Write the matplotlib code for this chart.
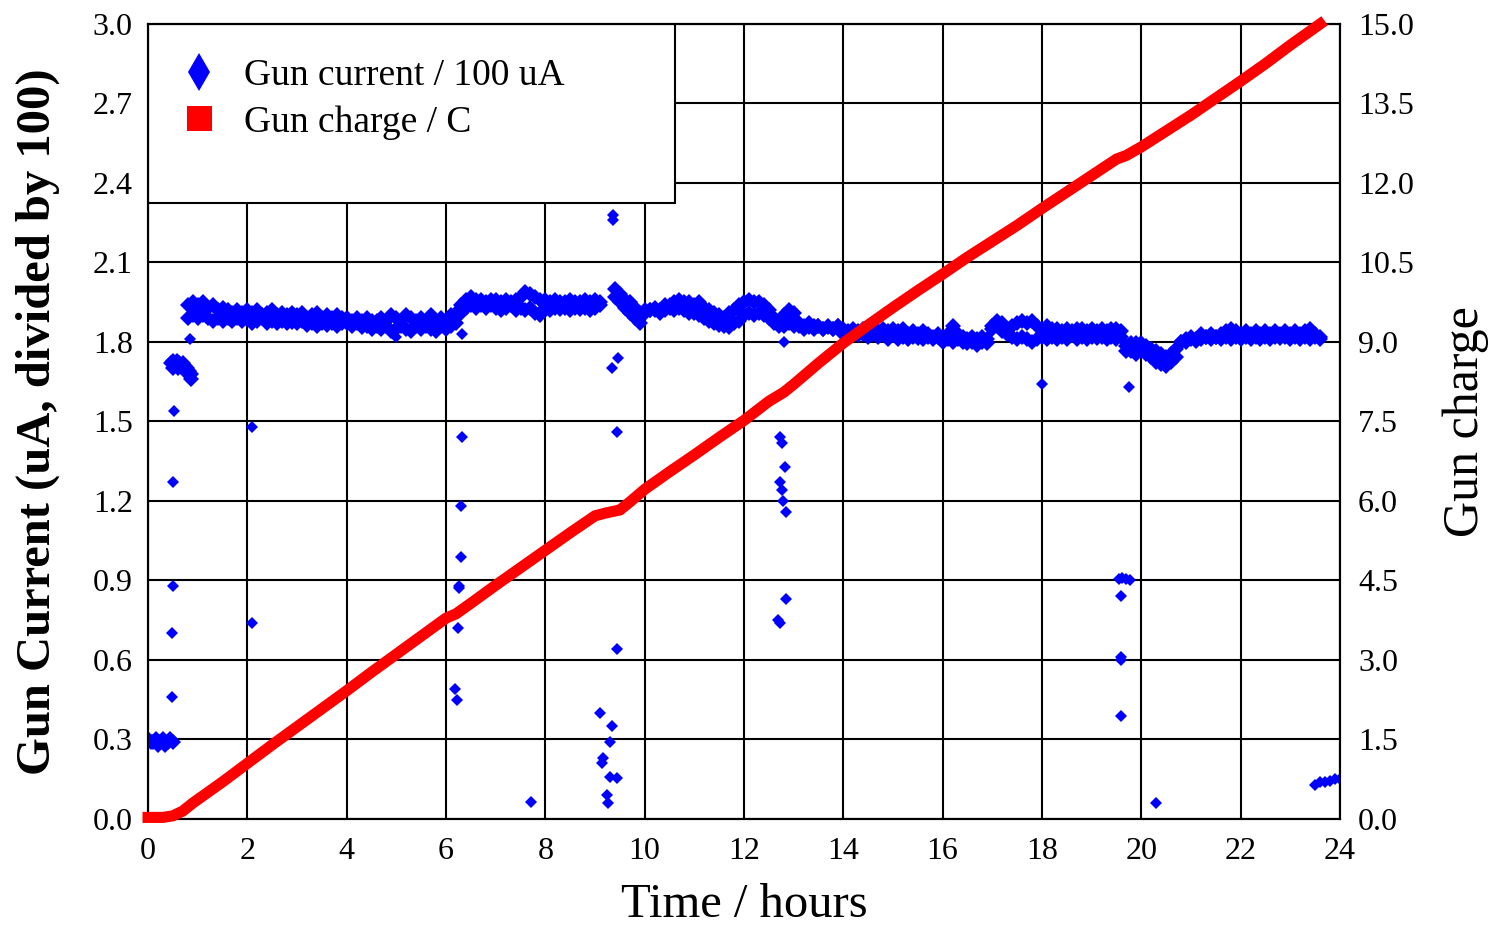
import numpy as np
import matplotlib
matplotlib.use("Agg")
import matplotlib.pyplot as plt
from matplotlib.lines import Line2D
from matplotlib.patches import Rectangle

plt.rcParams['font.family'] = ['Liberation Serif', 'DejaVu Serif']

# ---------------- gun current (units of 100 uA) ----------------
# dense band segments, sampled every 0.1 h: upper and lower row of the band
b1_t = np.arange(0.8, 6.25, 0.1)
b1_hi = [1.94, 1.95, 1.94, 1.95, 1.93, 1.94, 1.92, 1.93, 1.92, 1.91, 1.92, 1.91, 1.92, 1.91,
         1.92, 1.90, 1.91, 1.92, 1.90, 1.91, 1.90, 1.91, 1.90, 1.91, 1.89, 1.90, 1.91, 1.89,
         1.90, 1.89, 1.90, 1.89, 1.89, 1.88, 1.89, 1.88, 1.89, 1.88, 1.88, 1.89, 1.88, 1.90,
         1.89, 1.88, 1.90, 1.89, 1.88, 1.89, 1.88, 1.90, 1.88, 1.89, 1.88, 1.90, 1.91]
b1_lo = [1.89, 1.90, 1.89, 1.90, 1.89, 1.88, 1.89, 1.88, 1.89, 1.88, 1.89, 1.88, 1.885, 1.87,
         1.88, 1.89, 1.87, 1.88, 1.87, 1.88, 1.87, 1.875, 1.87, 1.88, 1.865, 1.87, 1.86, 1.87,
         1.865, 1.87, 1.86, 1.87, 1.87, 1.86, 1.87, 1.855, 1.86, 1.85, 1.86, 1.85, 1.86, 1.84,
         1.85, 1.86, 1.85, 1.84, 1.86, 1.85, 1.86, 1.85, 1.84, 1.86, 1.85, 1.86, 1.87]

b2_t = np.arange(6.3, 9.15, 0.1)
b2_hi = [1.94, 1.96, 1.97, 1.96, 1.96, 1.95, 1.96, 1.96, 1.95, 1.96, 1.95, 1.96, 1.97, 1.99,
         1.98, 1.97, 1.96, 1.96, 1.95, 1.96, 1.95, 1.95, 1.96, 1.95, 1.95, 1.96, 1.95, 1.96, 1.95]
b2_lo = [1.91, 1.93, 1.94, 1.93, 1.94, 1.93, 1.94, 1.93, 1.92, 1.93, 1.94, 1.92, 1.93, 1.92,
         1.93, 1.91, 1.90, 1.93, 1.92, 1.93, 1.925, 1.93, 1.92, 1.93, 1.925, 1.93, 1.92, 1.93, 1.94]

b3_t = np.arange(9.4, 13.95, 0.1)
b3_hi = [2.00, 1.98, 1.96, 1.95, 1.93, 1.91, 1.92, 1.92, 1.93, 1.92, 1.94, 1.94, 1.95, 1.96,
         1.95, 1.95, 1.94, 1.95, 1.93, 1.92, 1.91, 1.90, 1.89, 1.91, 1.92, 1.94, 1.95, 1.96,
         1.95, 1.95, 1.94, 1.92, 1.89, 1.88, 1.90, 1.92, 1.91, 1.87, 1.86, 1.87, 1.86, 1.86,
         1.85, 1.86, 1.85, 1.86]
b3_lo = [1.97, 1.95, 1.93, 1.91, 1.89, 1.87, 1.91, 1.92, 1.92, 1.91, 1.92, 1.93, 1.92, 1.93,
         1.92, 1.91, 1.91, 1.90, 1.89, 1.88, 1.87, 1.865, 1.86, 1.855, 1.87, 1.88, 1.90, 1.91,
         1.90, 1.91, 1.90, 1.89, 1.87, 1.86, 1.86, 1.87, 1.86, 1.86, 1.85, 1.855, 1.85, 1.86,
         1.85, 1.855, 1.85, 1.86]

b4_t = np.arange(14.0, 19.65, 0.1)
b4_hi = [1.85, 1.84, 1.85, 1.84, 1.85, 1.84, 1.85, 1.84, 1.85, 1.84, 1.85, 1.84, 1.85, 1.83,
         1.84, 1.83, 1.84, 1.83, 1.82, 1.83, 1.82, 1.83, 1.86, 1.83, 1.82, 1.81, 1.82, 1.81,
         1.82, 1.81, 1.86, 1.88, 1.87, 1.84, 1.86, 1.87, 1.88, 1.87, 1.88, 1.86, 1.85, 1.86,
         1.85, 1.85, 1.84, 1.85, 1.84, 1.85, 1.85, 1.84, 1.85, 1.84, 1.85, 1.84, 1.85, 1.85, 1.84]
b4_lo = [1.83, 1.82, 1.83, 1.825, 1.83, 1.82, 1.83, 1.82, 1.83, 1.81, 1.825, 1.81, 1.82, 1.81,
         1.82, 1.815, 1.81, 1.82, 1.81, 1.82, 1.80, 1.81, 1.80, 1.81, 1.80, 1.795, 1.80, 1.79,
         1.80, 1.795, 1.85, 1.86, 1.84, 1.83, 1.82, 1.81, 1.82, 1.81, 1.80, 1.81, 1.82, 1.81,
         1.82, 1.81, 1.82, 1.81, 1.825, 1.81, 1.82, 1.81, 1.82, 1.815, 1.82, 1.81, 1.82, 1.81, 1.82]

b5_t = np.arange(19.7, 20.75, 0.1)
b5_hi = [1.785, 1.795, 1.795, 1.795, 1.785, 1.775, 1.765, 1.755, 1.745, 1.755, 1.775]
b5_lo = [1.765, 1.765, 1.755, 1.765, 1.755, 1.745, 1.725, 1.715, 1.71, 1.725, 1.745]

b6_t = np.arange(20.8, 23.65, 0.1)
b6_hi = [1.80, 1.81, 1.82, 1.81, 1.83, 1.82, 1.83, 1.82, 1.83, 1.84, 1.85, 1.84, 1.83, 1.84,
         1.83, 1.84, 1.83, 1.84, 1.83, 1.84, 1.83, 1.84, 1.83, 1.84, 1.83, 1.84, 1.85, 1.83, 1.82]
b6_lo = [1.80, 1.80, 1.81, 1.805, 1.81, 1.82, 1.81, 1.82, 1.81, 1.82, 1.81, 1.82, 1.81, 1.82,
         1.81, 1.82, 1.81, 1.82, 1.81, 1.82, 1.815, 1.82, 1.81, 1.82, 1.81, 1.82, 1.81, 1.82, 1.81]

# small clusters and single readings (time h, current)
start_t = [0.0, 0.05, 0.1, 0.15, 0.2, 0.25, 0.3, 0.35, 0.4, 0.45, 0.5]
start_i = [0.30, 0.29, 0.29, 0.30, 0.28, 0.29, 0.30, 0.28, 0.29, 0.30, 0.29]

ramp_t = [0.46, 0.5, 0.54, 0.58, 0.62, 0.66, 0.7, 0.74, 0.78, 0.82, 0.86, 0.5, 0.6, 0.7, 0.8, 0.86]
ramp_i = [1.72, 1.73, 1.72, 1.73, 1.72, 1.71, 1.72, 1.71, 1.70, 1.69, 1.68, 1.70, 1.70, 1.70, 1.68, 1.66]

trip_t = [0.48, 0.49, 0.5, 0.5, 0.52, 0.85, 2.09, 2.09,
          6.32, 6.32, 6.3, 6.3, 6.26, 6.27, 6.24, 6.18, 6.22, 5.0, 7.71,
          9.1, 9.34, 9.3, 9.16, 9.14, 9.3, 9.44, 9.24, 9.26,
          9.36, 9.36, 9.46, 9.34, 9.44, 9.44,
          12.8, 12.73, 12.76, 12.82, 12.72, 12.76, 12.78, 12.84, 12.84, 12.68, 12.72,
          18.0, 19.75, 19.55, 19.62, 19.7, 19.78, 19.6, 19.59, 19.6, 19.59, 20.3,
          23.5, 23.6, 23.7, 23.8, 23.9, 24.0]
trip_i = [0.46, 0.70, 0.88, 1.27, 1.54, 1.81, 1.48, 0.74,
          1.83, 1.44, 1.18, 0.99, 0.88, 0.87, 0.72, 0.49, 0.45, 1.82, 0.065,
          0.40, 0.35, 0.29, 0.23, 0.21, 0.16, 0.155, 0.09, 0.06,
          2.26, 2.28, 1.74, 1.70, 1.46, 0.64,
          1.80, 1.44, 1.42, 1.33, 1.27, 1.24, 1.20, 1.16, 0.83, 0.75, 0.74,
          1.64, 1.63, 0.905, 0.91, 0.905, 0.90, 0.84, 0.61, 0.60, 0.39, 0.06,
          0.13, 0.14, 0.14, 0.145, 0.15, 0.15]

# ---------------- gun charge (C) ----------------
charge_t = [0.0, 0.3, 0.5, 0.7, 0.9, 1.2, 1.5, 2.0, 2.5, 3.0, 3.5, 4.0, 4.5, 5.0, 5.5, 6.0,
            6.2, 6.5, 7.0, 7.5, 8.0, 8.5, 9.0, 9.2, 9.5, 9.7, 10.0, 10.5, 11.0, 11.5, 12.0,
            12.5, 12.8, 13.0, 13.5, 14.0, 14.5, 15.0, 15.5, 16.0, 16.5, 17.0, 17.5, 18.0,
            18.5, 19.0, 19.5, 19.7, 20.0, 20.5, 21.0, 21.5, 22.0, 22.5, 23.0, 23.6]
charge_q = [0.03, 0.03, 0.06, 0.15, 0.30, 0.50, 0.70, 1.05, 1.40, 1.74, 2.08, 2.42, 2.77, 3.11,
            3.45, 3.79, 3.87, 4.07, 4.41, 4.74, 5.07, 5.40, 5.72, 5.77, 5.83, 5.98, 6.22, 6.55,
            6.87, 7.20, 7.52, 7.88, 8.05, 8.20, 8.60, 8.98, 9.32, 9.65, 9.97, 10.28, 10.60,
            10.90, 11.20, 11.52, 11.83, 12.14, 12.45, 12.52, 12.68, 12.98, 13.28, 13.60, 13.92,
            14.25, 14.60, 15.0]

x_ticks = list(range(0, 25, 2))
left_ticks = [0.0, 0.3, 0.6, 0.9, 1.2, 1.5, 1.8, 2.1, 2.4, 2.7, 3.0]
right_ticks = [0.0, 1.5, 3.0, 4.5, 6.0, 7.5, 9.0, 10.5, 12.0, 13.5, 15.0]

BLUE = '#0000ff'
RED = '#ff0000'

fig = plt.figure(figsize=(14.88, 9.25), dpi=100)
ax = fig.add_axes([0.0995, 0.1146, 0.801, 0.8595])
ax2 = ax.twinx()

# --- current on the left axis
band = dict(ls='none', marker='D', ms=8.5, color=BLUE, mew=0, zorder=3)
pts = dict(ls='none', marker='D', ms=6.5, color=BLUE, mew=0, zorder=3)
for t, hi, lo in [(b1_t, b1_hi, b1_lo), (b2_t, b2_hi, b2_lo), (b3_t, b3_hi, b3_lo),
                  (b4_t, b4_hi, b4_lo), (b5_t, b5_hi, b5_lo), (b6_t, b6_hi, b6_lo)]:
    ax.plot(t, hi, **band)
    ax.plot(t, lo, **band)
ax.plot(start_t, start_i, **band)
ax.plot(ramp_t, ramp_i, **band)
ax.plot(trip_t, trip_i, **pts)

ax.set_xlim(0, 24)
ax.set_ylim(0, 3.0)
ax.set_xticks(x_ticks)
ax.set_yticks(left_ticks)
ax.set_yticklabels(['%.1f' % v for v in left_ticks])
ax.set_axisbelow(True)
ax.grid(True, color='black', lw=1.5)

# legend frame (sits over the grid, under the data)
ax.add_patch(Rectangle((0, 0.775), 0.442, 0.225, transform=ax.transAxes,
                       fc='white', ec='black', lw=1.5, zorder=1))

# --- charge on the right axis
ax2.plot(charge_t, charge_q, color=RED, lw=8, solid_capstyle='projecting',
         solid_joinstyle='miter', clip_on=False, zorder=3)
ax2.set_ylim(0, 15.0)
ax2.set_yticks(right_ticks)
ax2.set_yticklabels(['%.1f' % v for v in right_ticks])

for a in (ax, ax2):
    for s in a.spines.values():
        s.set_linewidth(1.5)
ax.tick_params(axis='x', length=0, pad=13, labelsize=23)
ax.tick_params(axis='y', length=0, pad=11, labelsize=23)
ax2.tick_params(axis='y', length=0, pad=13, labelsize=23)

ax.set_xlabel('Time / hours', fontsize=35)
ax.xaxis.set_label_coords(0.5, -0.080)
ax.set_ylabel('Gun Current (uA, divided by 100)', fontsize=35, fontweight='bold')
ax.yaxis.set_label_coords(-0.074, 0.5)
ax2.set_ylabel('Gun charge', fontsize=36)
ax2.yaxis.set_label_coords(1.086, 0.5)

handles = [Line2D([], [], ls='none', marker='d', ms=19, color=BLUE, mew=0),
           Line2D([], [], ls='none', marker='s', ms=18, color=RED, mew=0)]
ax2.legend(handles, ['Gun current / 100 uA', 'Gun charge / C'], loc='upper left',
           bbox_to_anchor=(0.011, 0.980), frameon=False, fontsize=27, borderpad=0,
           handlelength=1.0, handletextpad=0.7, labelspacing=0.32)

fig.savefig('out.png', dpi=100)
